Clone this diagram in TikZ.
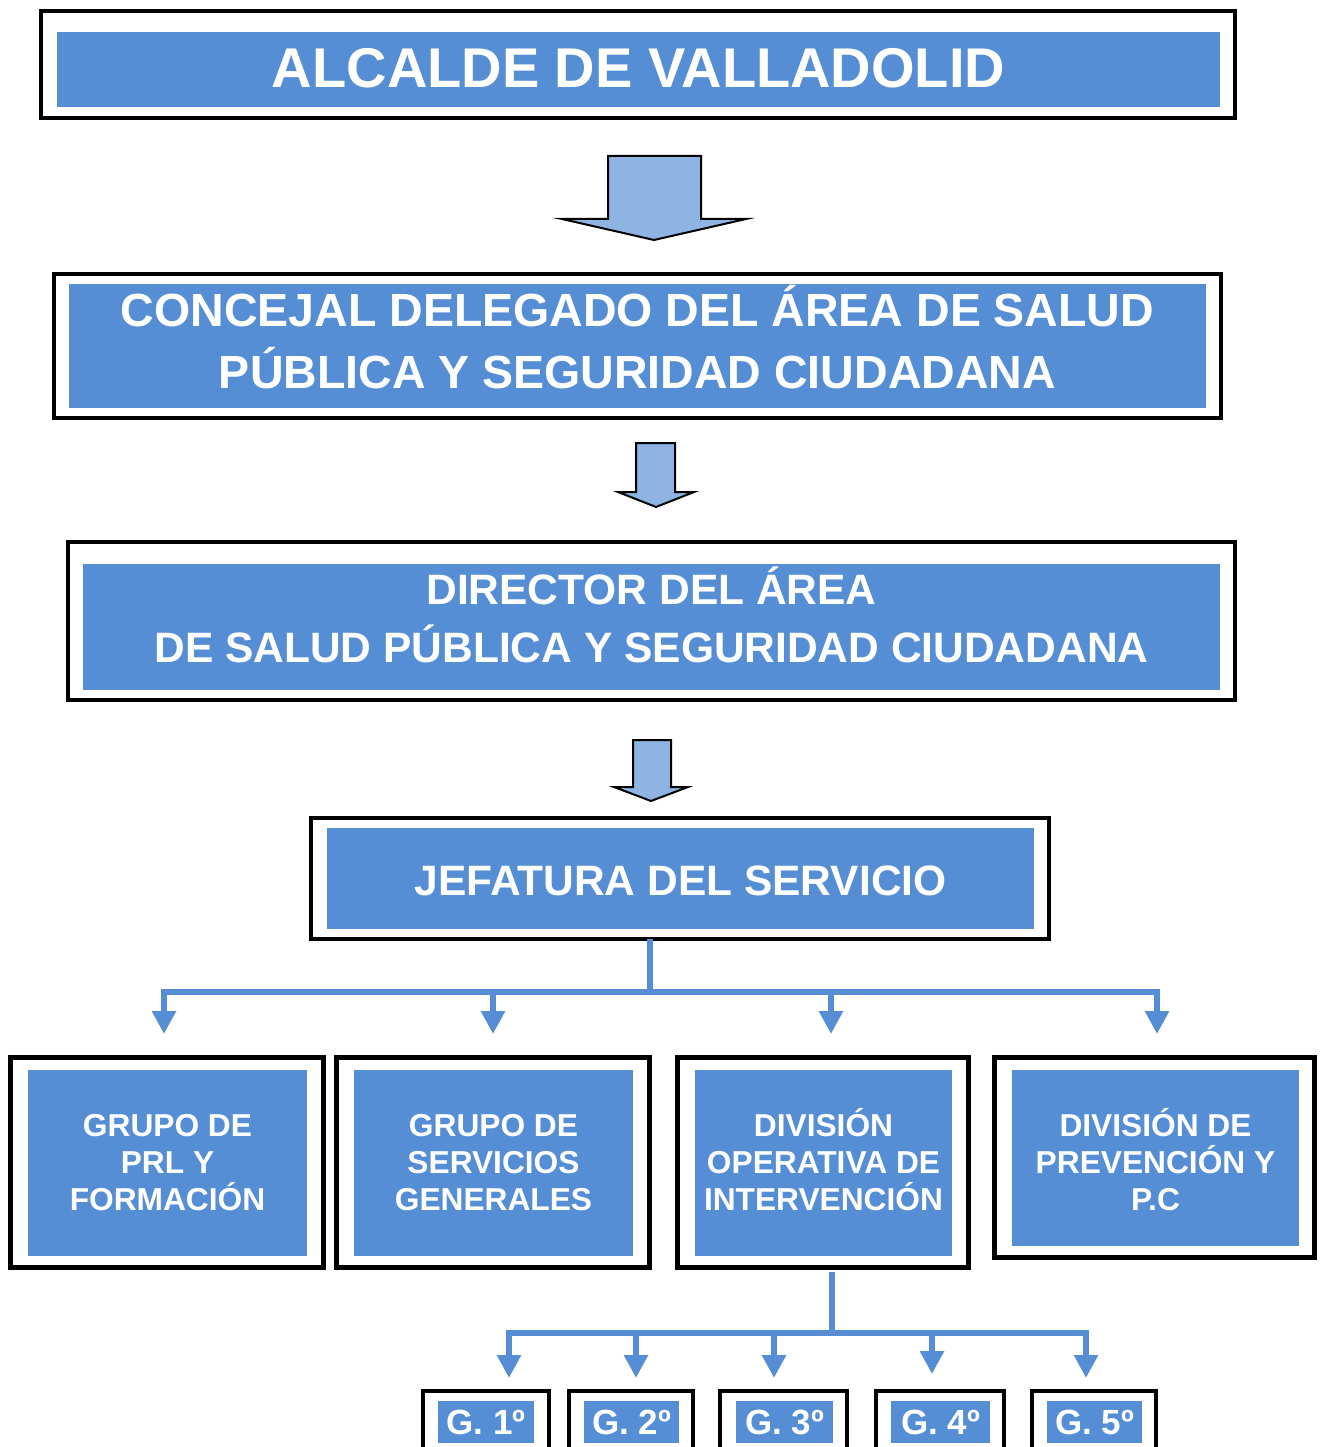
\documentclass[tikz,border=0pt]{standalone}
\usepackage{fontspec}
\setmainfont{Liberation Sans}
\usetikzlibrary{arrows.meta,fit}
\definecolor{boxblue}{RGB}{85,142,213}
\definecolor{arrowblue}{RGB}{142,180,227}
\begin{document}
\begin{tikzpicture}[x=1pt,y=-1pt,
  frame/.style={draw=black, line width=4pt, inner sep=0pt, outer sep=0pt},
  gframe/.style={draw=black, line width=3.4pt, inner sep=0pt, outer sep=0pt},
  inner/.style={fill=boxblue, draw=none, inner sep=0pt, outer sep=0pt},
  lbl/.style={text=white, inner sep=0pt, outer sep=0pt, align=center, anchor=base},
  blockarrow/.style={fill=arrowblue, draw=black, line width=2pt, line join=miter},
  conn/.style={draw=boxblue, line width=6pt},
  tip/.style={-{Triangle[width=23pt,length=23pt]}}
]
\path[use as bounding box, clip] (0,0) rectangle (1323,1447);
\fill[white] (0,0) rectangle (1323,1447);

% ---------- ALCALDE ----------
\node[frame, fit={(41,11) (1235,118)}] (alcF) {};
\node[inner, fit={(57,32) (1220,107)}] (alcB) {};
\node[lbl, font=\fontsize{56}{67}\selectfont\bfseries] (alcT) at (638.5,88) {ALCALDE DE VALLADOLID};

% block arrow 1
\draw[blockarrow] (608,156) -- (701,156) -- (701,219) -- (746,219) -- (654,240) -- (562,219) -- (608,219) -- cycle;

% ---------- CONCEJAL ----------
\node[frame, fit={(54,274) (1221,418)}] (conF) {};
\node[inner, fit={(69,284) (1206,408)}] (conB) {};
\node[lbl, font=\fontsize{46.5}{62}\selectfont\bfseries] (conT) at (637.5,388) {CONCEJAL DELEGADO DEL ÁREA DE SALUD\\PÚBLICA Y SEGURIDAD CIUDADANA};

% block arrow 2
\draw[blockarrow] (636,443) -- (675,443) -- (675,492) -- (694,492) -- (656,507) -- (618,492) -- (636,492) -- cycle;

% ---------- DIRECTOR ----------
\node[frame, fit={(68,542) (1235,700)}] (dirF) {};
\node[inner, fit={(83,564) (1220,690)}] (dirB) {};
\node[lbl, font=\fontsize{42.5}{58}\selectfont\bfseries] (dirT) at (651.5,662) {DIRECTOR DEL ÁREA\\DE SALUD PÚBLICA Y SEGURIDAD CIUDADANA};

% block arrow 3
\draw[blockarrow] (633,740) -- (671,740) -- (671,787) -- (688,787) -- (651,801) -- (614,787) -- (633,787) -- cycle;

% ---------- JEFATURA ----------
\node[frame, fit={(311,818) (1049,939)}] (jefF) {};
\node[inner, fit={(327,828) (1034,929)}] (jefB) {};
\node[lbl, font=\fontsize{42.5}{58}\selectfont\bfseries] (jefT) at (680.5,895) {JEFATURA DEL SERVICIO};

% ---------- four units ----------
\node[frame, line width=4.5pt, fit={(10.5,1057.5) (323.5,1267.5)}] (aF) {};
\node[inner, fit={(28,1070) (307,1256)}] (aB) {};
\node[lbl, font=\fontsize{31.7}{37}\selectfont\bfseries] (aT) at (167.5,1210.5) {GRUPO DE\\PRL Y\\FORMACIÓN};

\node[frame, line width=4.5pt, fit={(336.5,1057.5) (649.5,1267.5)}] (bF) {};
\node[inner, fit={(354,1070) (633,1256)}] (bB) {};
\node[lbl, font=\fontsize{31.7}{37}\selectfont\bfseries] (bT) at (493.5,1210.5) {GRUPO DE\\SERVICIOS\\GENERALES};

\node[frame, line width=4.5pt, fit={(677.5,1057.5) (968.5,1267.5)}] (cF) {};
\node[inner, fit={(695,1070) (952,1256)}] (cB) {};
\node[lbl, font=\fontsize{31.7}{37}\selectfont\bfseries] (cT) at (823.5,1210.5) {DIVISIÓN\\OPERATIVA DE\\INTERVENCIÓN};

\node[frame, line width=4.5pt, fit={(994.5,1057.5) (1314.5,1257.5)}] (dF) {};
\node[inner, fit={(1012,1070) (1299,1246)}] (dB) {};
\node[lbl, font=\fontsize{31.7}{37}\selectfont\bfseries] (dT) at (1155.5,1210.5) {DIVISIÓN DE\\PREVENCIÓN Y\\P.C};

% ---------- groups ----------
\node[gframe, fit={(423,1391) (549,1470)}] (g1F) {};
\node[inner, fit={(438,1401) (534,1443)}] (g1B) {};
\node[lbl, font=\fontsize{35}{40}\selectfont\bfseries] (g1T) at (486,1434) {G. 1º};

\node[gframe, fit={(569,1391) (693,1470)}] (g2F) {};
\node[inner, fit={(584,1401) (679,1443)}] (g2B) {};
\node[lbl, font=\fontsize{35}{40}\selectfont\bfseries] (g2T) at (631.5,1434) {G. 2º};

\node[gframe, fit={(720,1391) (847,1470)}] (g3F) {};
\node[inner, fit={(736,1401) (833,1443)}] (g3B) {};
\node[lbl, font=\fontsize{35}{40}\selectfont\bfseries] (g3T) at (784.5,1434) {G. 3º};

\node[gframe, fit={(876,1391) (1004,1470)}] (g4F) {};
\node[inner, fit={(891,1401) (990,1443)}] (g4B) {};
\node[lbl, font=\fontsize{35}{40}\selectfont\bfseries] (g4T) at (940.5,1434) {G. 4º};

\node[gframe, fit={(1032,1391) (1156,1470)}] (g5F) {};
\node[inner, fit={(1047,1401) (1142,1443)}] (g5B) {};
\node[lbl, font=\fontsize{35}{40}\selectfont\bfseries] (g5T) at (1094.5,1434) {G. 5º};

% ---------- upper tree ----------
\coordinate (bus) at (650,992);
\coordinate (b2) at (493,992);
\coordinate (b3) at (831,992);
\coordinate (t1) at (164,1034);
\coordinate (t2) at (493,1034);
\coordinate (t3) at (831,1034);
\coordinate (t4) at (1157,1034);
\draw[conn] (jefF.south -| bus) -- (bus);
\draw[conn, tip] (bus) -| (t1);
\draw[conn, tip] (bus) -| (t4);
\draw[conn, tip] (b2) -- (t2);
\draw[conn, tip] (b3) -- (t3);

% ---------- lower tree ----------
\coordinate (lbus) at (832,1333);
\coordinate (lb2) at (636,1333);
\coordinate (lb3) at (774,1333);
\coordinate (lb4) at (932,1333);
\coordinate (u1) at (509,1378);
\coordinate (u2) at (636,1378);
\coordinate (u3) at (774,1378);
\coordinate (u4) at (932,1374);
\coordinate (u5) at (1086,1378);
\draw[conn] ([yshift=-4pt]cF.south -| lbus) -- (lbus);
\draw[conn, tip] (lbus) -| (u1);
\draw[conn, tip] (lbus) -| (u5);
\draw[conn, tip] (lb2) -- (u2);
\draw[conn, tip] (lb3) -- (u3);
\draw[conn, tip] (lb4) -- (u4);
\end{tikzpicture}
\end{document}
